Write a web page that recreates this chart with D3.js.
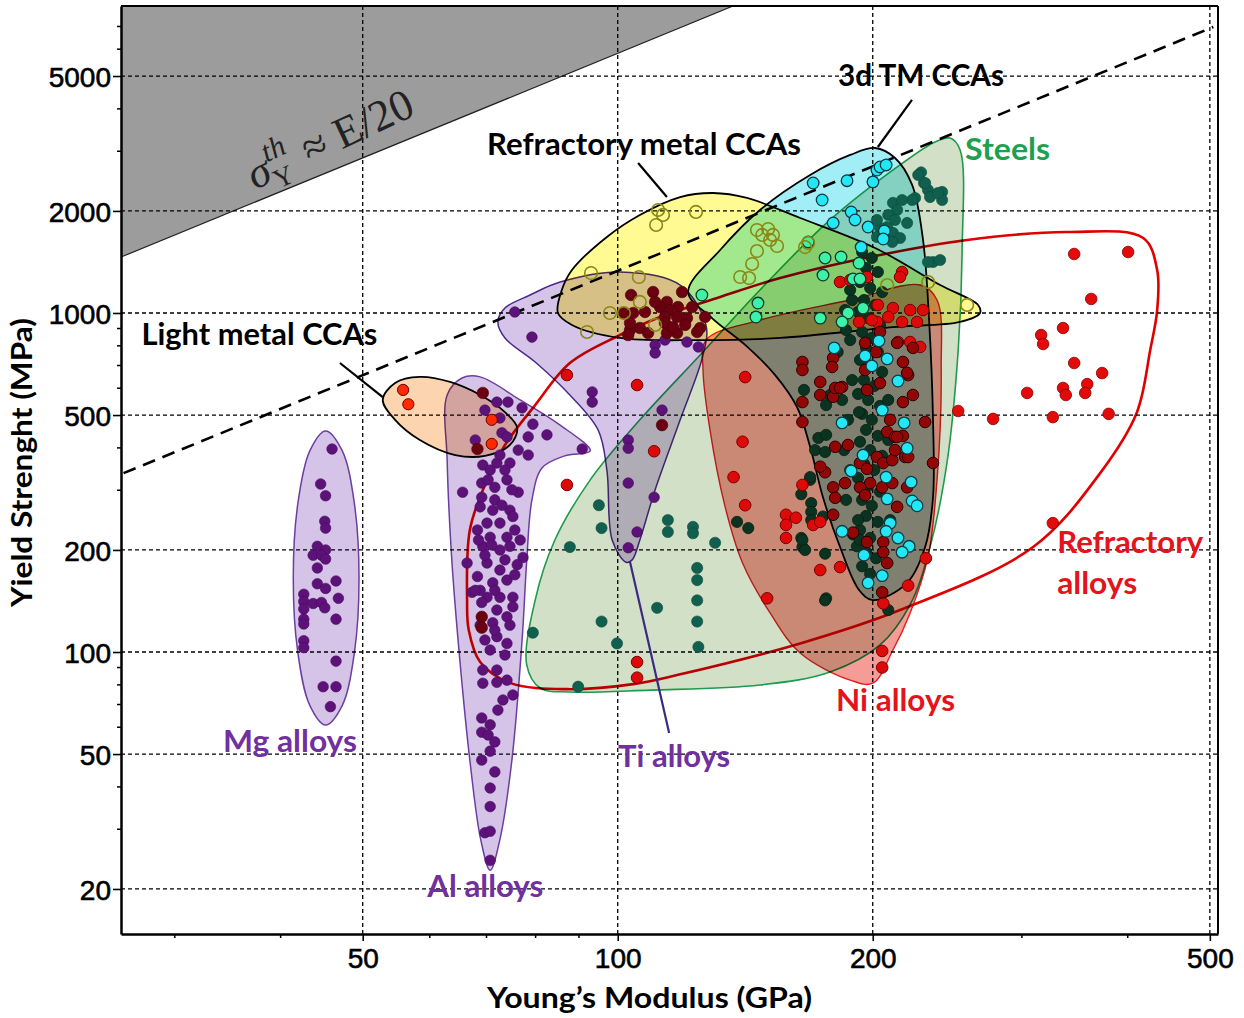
<!DOCTYPE html>
<html><head><meta charset="utf-8">
<script src="https://cdn.jsdelivr.net/npm/d3@7"></script>
<style>
html,body{margin:0;padding:0;background:#fff;}
svg{display:block;}
</style></head><body>
<svg id="chart" width="1244" height="1018"></svg>
<script>
// ---------- axes ----------
const xDomain = [25.92, 511.2];   // Young's modulus, GPa
const yDomain = [14.73, 8045];    // yield strength, MPa
const xTicks = [50, 100, 200, 500];
const yTicks = [20, 50, 100, 200, 500, 1000, 2000, 5000];
const xMinor = [30, 40, 60, 70, 80, 90, 300, 400];
const yMinor = [30, 40, 60, 70, 80, 90, 300, 400, 600, 700, 800, 900, 3000, 4000, 6000, 7000];

// ---------- limit lines ----------
const theoreticalEdge = [[25.92, 1462], [136.8, 8045]];   // sigma_th ~ E/20 boundary
const dashedLine = [[26.1, 337], [504.7, 6977]];

// ---------- envelopes [E, sigma] ----------
const mgEnvelope = [[49.5,165],[48.9,272],[47.3,392],[45.2,449],[43.3,392],[41.9,272],[41.4,165],[41.9,100.3],[43.3,69.6],[45.2,60.9],[47.3,69.6],[48.9,100.3]];
const alEnvelope = [[62.9,573],[65.5,643],[68.8,648],[76.7,554],[85.5,467],[92.8,392],[86.6,379],[81.4,349],[79.2,281],[78.1,187],[77.1,108],[75.0,48],[72.6,28],[70.7,22.7],[68.9,28],[66.9,48],[65.1,95],[63.7,187],[62.9,368]];
const tiEnvelope = [[72.2,941],[73.6,1034],[78.8,1130],[85.5,1234],[100.6,1321],[118.5,1209],[127.1,922],[126.1,752],[118.5,484],[110.7,301],[106.2,214],[104.0,187],[102.3,184],[98.5,214],[97.1,344],[94.8,452],[87.8,573],[79.9,717],[73.6,844]];
const steelEnvelope = [[78.1,91.5],[79.9,142.3],[84.3,214],[92.8,322],[106.2,484],[125.1,752],[147.2,1169],[178.1,1881],[215.4,2733],[236.9,3195],[246.8,3280],[253.6,3026],[255.0,1534],[252.3,778],[244.7,361],[233.7,204],[221.4,138],[204.0,104.9],[178.1,87.3],[147.2,79.9],[109.2,77.2],[87.8,76.2],[81.0,78.3]];
const niEnvelope = [[127.1,832],[147.2,953],[188.1,1092],[227.5,1209],[238.2,1092],[240.9,679],[238.2,322],[232.4,190.6],[221.4,130.4],[211.3,101.4],[200,80.9],[188.1,82.6],[164.2,99.3],[151.3,130.4],[140.4,183],[133.9,268],[128.5,452],[126.1,679]];
const refractoryEnvelope = [[66.4,142.3],[66.9,229],[69.7,311],[73.6,408],[79.9,535],[87.8,712],[100.6,861],[112.2,973],[132.1,1115],[155.5,1268],[198.6,1463],[258.5,1642],[339.2,1733],[417.2,1664],[433.3,1339],[433.3,1020],[425.2,778],[409.8,507],[371.1,337],[309.3,204],[215.4,133],[164.2,106],[117.5,85.5],[104.3,80.4],[87.1,77.7],[74.6,81.1],[68.8,93.4],[66.7,116.1]];
const tmCcaEnvelope = [[121.1,1153],[132.1,1534],[147.2,2013],[168.7,2553],[188.1,2925],[201.3,3067],[212.5,2866],[222.6,2386],[229.3,1642],[233.1,953],[235.6,484],[235.6,286],[230.6,204],[219.6,160],[200,142.3],[192.7,152.4],[183,204],[174.7,286],[168.7,403],[162.8,528],[153.4,656],[141.4,805],[129.2,966]];
const refCcaEnvelope = [[85.0,1000],[85.9,1169],[88.3,1339],[97.1,1676],[106.2,1946],[118.5,2198],[129.6,2259],[142.1,2184],[164.2,1906],[201.3,1555],[240.2,1209],[266.3,1056],[267.7,1000],[253.6,941],[211.3,909],[155.5,844],[125.1,832],[100.6,844],[88.3,922]];
const lightCcaEnvelope = [[52.8,554],[54.6,622],[58.4,648],[63.4,626],[68.8,573],[73.6,510],[76.1,458],[74.6,408],[69.7,379],[64.3,381],[58.4,422],[54.6,484]];

// ---------- points [E, sigma] ----------
const mgPoints = [[46.0,397],[44.6,313],[45.2,289],[45.1,243],[45.2,232],[44.2,205],[45.2,200],[43.7,193],[44.7,193],[45.2,188],[44.2,177],[44.2,159],[45.2,154],[46.5,162],[42.6,148],[42.6,141],[43.7,139],[44.7,140],[46.8,144],[45.1,135],[42.6,134],[42.6,125],[42.6,121],[46.5,125],[42.6,108],[42.6,103],[46.5,94],[44.9,79],[46.5,79],[45.8,69]];
const alPoints = [[72.0,546],[74.2,546],[77.1,525],[72.6,490],[79.4,470],[82.5,437],[78.4,431],[90.8,397],[73.0,443],[74.0,431],[76.3,394],[78.4,381],[69.3,356],[72.0,361],[74.6,361],[65.6,296],[76.3,296],[69.1,315],[69.1,286],[71.6,306],[74.0,322],[68.8,268],[71.2,262],[74.6,262],[70.1,240],[72.6,240],[75.2,251],[68.3,229],[70.7,218],[74.0,218],[69.3,205],[72.6,200],[74.6,205],[77.3,190],[66.4,183],[70.1,183],[72.6,174.5],[68.3,167],[71.2,160],[74.0,163],[67.3,150],[70.1,145],[72.6,145],[75.2,145],[69.1,140],[72.0,133],[71.2,122],[74.0,127],[75.2,136],[72.0,111],[69.7,108.5],[74.0,106],[70.7,101.4],[69.3,88.5],[72.0,88.5],[74.0,82.6],[69.3,80.9],[72.0,81.4],[75.2,74.7],[72.2,67.4],[69.1,63.9],[70.7,61.0],[69.1,58.0],[70.3,56.9],[71.6,54.3],[70.7,51.0],[69.1,48.0],[71.6,44.3],[70.7,39.7],[70.7,35.0],[69.7,29.3],[70.7,29.6],[70.7,24.3],[70.7,344],[73.6,344],[71.6,281],[75.6,229],[69.7,193],[73.6,187],[71.6,152],[74.6,120],[68.8,152],[75.6,169],[71.0,207],[73.0,271],[70.3,322],[75.0,301],[68.5,214],[76.7,214],[72.6,381],[69.7,517],[67.9,422],[71.6,116],[73.6,98],[68.8,120],[73.2,72.2],[67.9,152],[76.1,181]];
const tiPoints = [[75.6,1007],[79.2,849],[93.3,585],[93.3,546],[102.9,422],[102.9,399],[112.8,517],[102.9,315],[110.4,286],[105.4,226],[102.9,203],[110.7,805],[110.7,762],[120.7,821],[124.5,794],[113.7,832]];
const steelPoints = [[95.0,271],[95.7,232],[87.8,204],[99.8,106],[95.7,123],[79.4,114],[111.3,135],[114.6,245],[114.6,226],[122.7,234],[122.7,224],[130.3,210],[124.1,177],[124.1,163],[124.1,142],[124.1,123],[124.5,103.5],[89.8,79],
  [228.1,2599],[229.9,2418],[232.4,2306],[224.4,2184],[233.7,2198],[241.5,2275],[241.5,2154],[222.6,2154],[211.3,2113],[213.7,2013],[208.6,1946],[212.5,1881],[208.0,1793],[204.0,1781],[202.3,1881],[211.3,1722],[215.4,1664],[210.9,1620],[202.3,1676],[216.6,2154],[235.6,1414],[240.2,1433],[232.4,1414],[219.6,1843],[226.3,2553],[238.8,2259],[230.6,2418]];
const steelDarkPoints = [[194.3,1513],[199.5,1453],[196.4,1357],[202.8,1321],[193.2,1234],[198.6,1185],[205.2,1153],[195.3,1092],[201.3,1056],[192.2,1007],[197.5,966],[204.0,922],[194.3,879],[199.5,844],[196.4,789],[202.8,767],[193.2,727],[198.6,698],[205.2,670],[195.3,634],[200.8,609],[192.2,577],[197.5,554],[204.0,532],[194.3,504],[199.5,484],[196.4,452],[202.8,434],[193.2,417],[198.6,394],[205.2,379],[195.3,359],[200.8,344],[192.2,326],[197.5,309],[204.0,297],[194.3,281],[199.5,270],[196.4,252],[202.8,242],[193.2,229],[198.6,217],[191.6,205],[196.4,197],[201.8,189],[194.3,179],[198.6,170],[192.2,245],[188.1,344],[187.0,484],[189.1,634],[188.1,832],[208.6,554],[208.6,422],[209.7,245],[186.0,281],[185.0,394],[184.0,554],[189.1,1092],[186.0,891],
  [165.9,593],[176.2,535],[172.5,428],[176.2,437],[171.0,394],[175.7,389],[192.7,510],[168.7,322],[164.7,292],[169.2,275],[169.2,259],[169.2,245],[174.7,251],[164.7,217],[165.2,204],[175.7,195],[176.2,144],[208.6,133],[189.6,222],[193.2,214],[138.3,242],[142.6,232],[165.2,214],[166.4,200],[168.7,328],[175.7,142],[178.1,573],[181.8,767],[185.5,1020],[188.1,1169]];
const niPoints = [[141.4,647],[140.4,417],[137.0,328],[141.4,271],[158.0,254],[162.3,249],[158.0,237],[158.0,217],[150.1,144],[170.1,237],[173.4,242],[165.2,311],[173.4,174.5],[183.0,178],[105.4,93.4],[105.4,84],[87.1,656],[87.1,311],[105.4,613],[110.4,391],[205.2,100.7],[205.2,90],[231.1,189],[220.2,157],[205.8,139],
  [183.0,1234],[188.1,1251],[196.9,1277],[216.6,1321],[215.4,1277],[202.8,1056],[211.3,1034],[221.4,1020],[229.3,1020],[225.6,941],[216.6,941],[208.6,973],[202.3,941],[192.7,941],[199.5,953],[221.4,821],[227.5,794],[214.2,821]];
const niDarkPoints = [[173.4,573],[179.6,566],[184.0,605],[173.4,626],[165.2,546],[165.2,477],[187.0,408],[180.6,403],[193.2,361],[196.9,347],[202.3,376],[205.8,361],[210.9,368],[212.5,394],[208.0,446],[212.5,431],[217.1,434],[218.4,376],[219.6,306],[213.7,268],[205.2,306],[210.9,315],[198.6,315],[193.2,306],[185.5,315],[179.6,306],[195.9,290],[180.6,285],[175.7,339],[173.4,352],[179.6,254],[189.6,225],[196.9,211],[205.8,211],[205.8,197],[208.0,183],[205.2,150],[223.1,573],[230.6,477],[235.6,361],[217.1,546],[180.6,601],[196.9,593],[204.0,621],[179.6,737],[183.0,601],[195.9,816],[201.8,767],[213.7,816],[223.1,789],[220.2,656],[217.1,717],[209.7,484],[213.7,431],[220.2,376],[165.2,717],[165.2,679],[179.1,693],[195.9,679],[219.6,666],[204.0,879]];
const refractoryPoints = [[345.8,1493],[400.4,1513],[362.2,1100],[335.5,903],[316.1,861],[317.8,810],[345.8,712],[373.1,665],[304.3,581],[335.5,601],[338.0,573],[358.3,617],[356.3,581],[326.3,493],[379.8,504],[277.4,487],[252.3,514],[326.3,240]];
const maroonPoints = [[103.7,1130],[110.1,1153],[119.1,1153],[114.3,1078],[117.8,1041],[112.2,1041],[115.3,1020],[107.7,1007],[101.4,1000],[104.3,1000],[113.7,973],[117.5,973],[120.7,966],[122.4,1041],[113.7,934],[120.1,922],[125.1,903],[103.4,891],[106.2,903],[108.6,873],[114.3,873],[117.5,873],[124.1,879],[102.9,861],[110.7,1078],[126.8,973],[103.4,934],[116.2,909],[69.3,581],[68.3,397],[69.1,127],[69.1,118],[112.8,467]];
const tmCcaPoints = [[170.1,2418],[174.3,2154],[186.5,2456],[200.1,2437],[202.3,2641],[204.0,2696],[207.4,2733],[188.6,1986],[190.6,1881],[179.6,1843],[197.5,1793],[206.4,1746],[205.8,1653],[193.8,1565],
  [180.1,789],[195.9,747],[208.0,732],[199.5,698],[203.4,827],[214.2,630],[205.2,517],[217.8,474],[184.0,474],[219.6,399],[194.8,381],[188.6,342],[207.4,328],[222.0,317],[208.0,283],[222.6,279],[225.6,270],[209.7,240],[207.4,227],[184.0,227],[214.2,217],[220.8,205],[216.6,197],[195.3,193],[205.2,168],[197.5,160]];
const tmCcaInRefPoints = [[167.8,1620],[175.7,1453],[183.5,1463],[192.7,1404],[174.7,1294],[189.6,1260],[193.2,1260],[187.0,1000],[173.4,966],[184.0,941],[194.8,1034],[125.7,1130],[146.4,1070],[145.6,973]];
const refCcaPoints = [[111.6,2013],[113.1,1946],[111.0,1818],[123.7,1986],[93.0,1312],[105.9,1277],[97.9,1000],[101.7,1000],[106.2,1078],[110.7,922],[92.0,879],[146.0,1757],[150.5,1769],[152.5,1699],[148.1,1699],[151.3,1642],[154.2,1576],[146.0,1523],[144.1,1395],[139.5,1277],[142.9,1268],[166.4,1565],[167.8,1609],[258.5,1056],[232.5,1234],[208.0,1209]];
const lightCcaPoints = [[55.8,593],[56.6,538],[71.0,484],[71.0,411]];

// ---------- annotations ----------
const labelTexts = ["3d TM CCAs","Refractory metal CCAs","Light metal CCAs","Steels","Refractory","alloys","Ni alloys","Mg alloys","Ti alloys","Al alloys"];
const labelAnchors = [[182.0,4673],[70.1,2925],[27.4,804],[257.1,2827],[330.2,196],[330.2,148.3],[181.0,67.0],[34.2,50.7],[100.1,45.8],[59.6,18.9]];
const leaderLines = [[[222.5,4250],[202.8,3088]],[[105.7,2770],[114.3,2198]],[[47.0,712],[52.8,565]],[[103.4,184.2],[115.0,57.7]]];

// ---------- drawing ----------
const svg = d3.select("#chart");
const L = 121, R = 1218, T = 6, B = 934;
const x = d3.scaleLog().domain(xDomain).range([L, R]);
const y = d3.scaleLog().domain(yDomain).range([B, T]);

svg.append("defs").append("clipPath").attr("id","plot")
  .append("rect").attr("x",L).attr("y",T).attr("width",R-L).attr("height",B-T);

const plot = svg.append("g").attr("clip-path","url(#plot)");

// gray theoretical region
const grayPoly = [[xDomain[0], yDomain[1]], theoreticalEdge[1], theoreticalEdge[0]];
plot.append("path")
  .attr("d", d3.line().x(d=>x(d[0])).y(d=>y(d[1]))(grayPoly) + "Z")
  .attr("fill","#9c9c9c").attr("stroke","none");
plot.append("line")
  .attr("x1",x(theoreticalEdge[0][0])).attr("y1",y(theoreticalEdge[0][1]))
  .attr("x2",x(theoreticalEdge[1][0])).attr("y2",y(theoreticalEdge[1][1]))
  .attr("stroke","#222").attr("stroke-width",1.2);

// grid
plot.selectAll(".gx").data(xTicks).enter().append("line")
  .attr("x1",d=>x(d)).attr("x2",d=>x(d)).attr("y1",T).attr("y2",B)
  .attr("stroke","#000").attr("stroke-width",1.3).attr("stroke-dasharray","4,3");
plot.selectAll(".gy").data(yTicks).enter().append("line")
  .attr("y1",d=>y(d)).attr("y2",d=>y(d)).attr("x1",L).attr("x2",R)
  .attr("stroke","#000").attr("stroke-width",1.3).attr("stroke-dasharray","4,3");

// envelopes
const closed = d3.line().x(d=>x(d[0])).y(d=>y(d[1])).curve(d3.curveCatmullRomClosed.alpha(0.5));
function env(data, fill, stroke, sw){
  plot.append("path").attr("d", closed(data))
    .attr("fill", fill).attr("stroke", stroke).attr("stroke-width", sw)
    .style("mix-blend-mode","multiply");
}
env(mgEnvelope, "#d6c4e8", "#6b3fa0", 1.5);
env(alEnvelope, "#d6c4e8", "#6b3fa0", 1.5);
env(tiEnvelope, "#d6c4e8", "#4a2a8a", 1.5);
env(steelEnvelope, "#d2e0c8", "#1f9a4c", 1.6);
env(niEnvelope, "#f49c95", "#e02020", 1.4);
env(refractoryEnvelope, "none", "#e00000", 2.6);
env(tmCcaEnvelope, "#a2eef6", "#000", 1.8);
env(refCcaEnvelope, "#fffa92", "#000", 1.8);
env(lightCcaEnvelope, "#fcd4b0", "#000", 1.8);

// dashed line
plot.append("line")
  .attr("x1",x(dashedLine[0][0])).attr("y1",y(dashedLine[0][1]))
  .attr("x2",x(dashedLine[1][0])).attr("y2",y(dashedLine[1][1]))
  .attr("stroke","#000").attr("stroke-width",2.6).attr("stroke-dasharray","13,8");

// points
function pts(data, r, fill, stroke, sw){
  plot.append("g").selectAll("circle").data(data).enter().append("circle")
    .attr("cx",d=>x(d[0])).attr("cy",d=>y(d[1])).attr("r",r)
    .attr("fill",fill).attr("stroke",stroke).attr("stroke-width",sw);
}
pts(mgPoints, 5.3, "#5c1278", "#4a0a62", 0.6);
pts(alPoints, 5.3, "#5c1278", "#4a0a62", 0.6);
pts(tiPoints, 5.3, "#5c1278", "#3c0a52", 0.6);
pts(steelPoints, 5.6, "#11604f", "#0b4a3c", 0.6);
pts(steelDarkPoints, 5.6, "#0b3322", "#06200f", 0.8);
pts(niPoints, 5.8, "#dd0a0a", "#7a0000", 1);
pts(niDarkPoints, 5.8, "#920606", "#2a0000", 1);
pts(refractoryPoints, 5.8, "#e30a0a", "#8a0000", 0.8);
pts(maroonPoints, 5.8, "#6b0010", "#4a000a", 0.6);
pts(tmCcaPoints, 5.8, "#22e8f6", "#0d3a44", 1.3);
pts(tmCcaInRefPoints, 5.8, "#3cf2a6", "#0d3a30", 1.3);
pts(refCcaPoints, 6.3, "none", "#8a8814", 1.6);
pts(lightCcaPoints, 5.6, "#ff2a00", "#6a0000", 1);

// frame
svg.append("line").attr("x1",L).attr("x2",R).attr("y1",T).attr("y2",T).attr("stroke","#000").attr("stroke-width",2);
svg.append("line").attr("x1",R).attr("x2",R).attr("y1",T).attr("y2",B).attr("stroke","#000").attr("stroke-width",2);

// axes
const fontTick = "'Liberation Sans', Arial, sans-serif";
const xAxis = svg.append("g").attr("transform",`translate(0,${B})`)
  .call(d3.axisBottom(x).tickValues(xTicks).tickFormat(d3.format("d")).tickSize(7).tickSizeOuter(0));
const yAxis = svg.append("g").attr("transform",`translate(${L},0)`)
  .call(d3.axisLeft(y).tickValues(yTicks).tickFormat(d3.format("d")).tickSize(8).tickSizeOuter(0));
[xAxis, yAxis].forEach(a=>{
  a.select(".domain").attr("stroke","#000").attr("stroke-width",2.5);
  a.selectAll(".tick line").attr("stroke","#000").attr("stroke-width",1.6);
  a.selectAll("text").attr("font-family",fontTick).attr("font-size",28).attr("fill","#000")
    .attr("stroke","#000").attr("stroke-width",0.6);
});
xAxis.selectAll("text").attr("y",0).attr("dy",34);
yAxis.selectAll("text").attr("x",-10).attr("dy","0.36em");
svg.append("g").selectAll("line").data(xMinor).enter().append("line")
  .attr("x1",d=>x(d)).attr("x2",d=>x(d)).attr("y1",B).attr("y2",B+4).attr("stroke","#000").attr("stroke-width",1.5);
svg.append("g").selectAll("line").data(yMinor).enter().append("line")
  .attr("y1",d=>y(d)).attr("y2",d=>y(d)).attr("x1",L-4).attr("x2",L).attr("stroke","#000").attr("stroke-width",1.5);

// axis titles
const fontLab = "Lato, 'Open Sans', sans-serif";
svg.append("text").text("Young\u2019s Modulus (GPa)")
  .attr("x",487).attr("y",1008).attr("font-family",fontLab).attr("font-weight",700).attr("font-size",29)
  .attr("textLength",325).attr("lengthAdjust","spacingAndGlyphs").attr("fill","#000");
svg.append("text").text("Yield Strenght (MPa)")
  .attr("transform","translate(32,607) rotate(-90)").attr("font-family",fontLab).attr("font-weight",700).attr("font-size",29)
  .attr("textLength",289).attr("lengthAdjust","spacingAndGlyphs").attr("fill","#000");

// theoretical strength text
const th = svg.append("text")
  .attr("transform",`translate(${x(37.3)},${y(2306)}) rotate(-25)`)
  .attr("font-family","'Liberation Serif', 'DejaVu Serif', serif").attr("font-size",44).attr("fill","#222");
th.append("tspan").text("\u03C3").attr("font-style","italic");
th.append("tspan").text("Y").attr("font-size",27).attr("dy",9);
th.append("tspan").text("th").attr("font-size",30).attr("font-style","italic").attr("dx",-19).attr("dy",-29);
th.append("tspan").text(" \u2248 E/20").attr("dy",20).attr("dx",4);

// leaders
const leaderColors = ["#000","#000","#000","#3d2a80"];
svg.append("g").selectAll("line").data(leaderLines).enter().append("line")
  .attr("x1",d=>x(d[0][0])).attr("y1",d=>y(d[0][1])).attr("x2",d=>x(d[1][0])).attr("y2",d=>y(d[1][1]))
  .attr("stroke",(d,i)=>leaderColors[i]).attr("stroke-width",2.2);

// labels
const labelColors = ["#000","#000","#000","#1fa04f","#e3141b","#e3141b","#e3141b","#7030a0","#7030a0","#7030a0"];
const labelLengths = [166,314,236,85,146,80,119,134,112,116];
svg.append("g").selectAll("text").data(labelTexts).enter().append("text")
  .text(d=>d)
  .attr("x",(d,i)=>x(labelAnchors[i][0])).attr("y",(d,i)=>y(labelAnchors[i][1]))
  .attr("font-family",fontLab).attr("font-weight",700).attr("font-size",30)
  .attr("fill",(d,i)=>labelColors[i])
  .attr("textLength",(d,i)=>labelLengths[i]).attr("lengthAdjust","spacingAndGlyphs");
</script>
</body></html>
